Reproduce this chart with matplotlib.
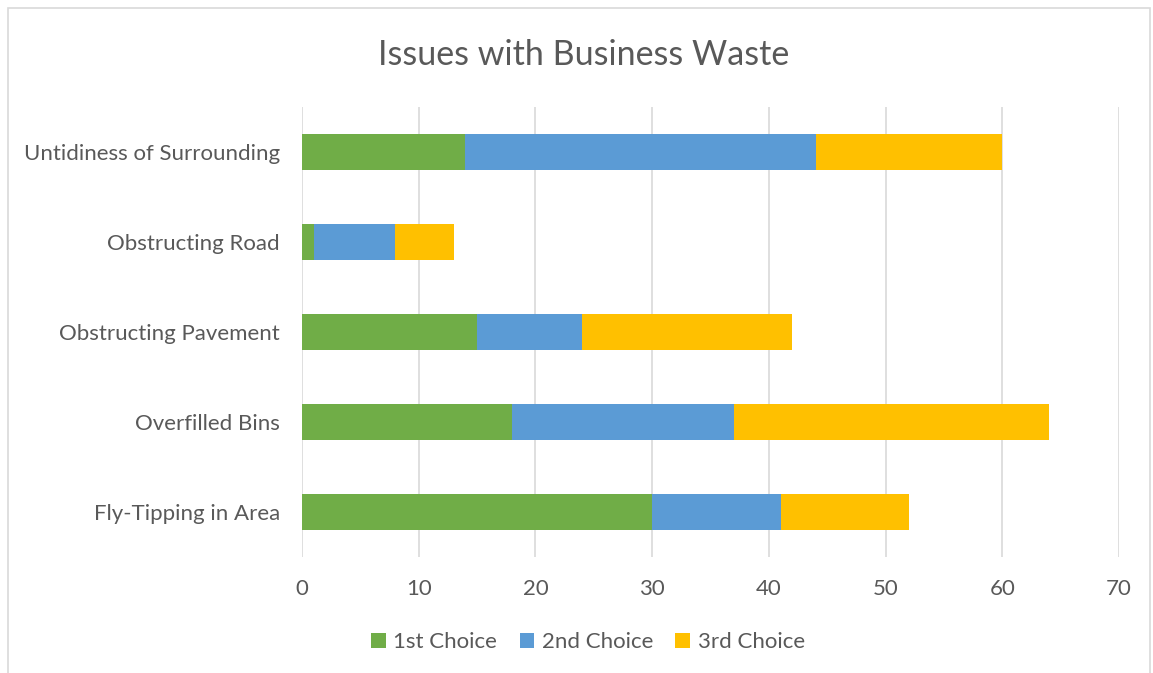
import matplotlib.pyplot as plt
from matplotlib.patches import Rectangle

categories = ['Fly-Tipping in Area', 'Overfilled Bins', 'Obstructing Pavement',
              'Obstructing Road', 'Untidiness of Surrounding']
first_choice = [30, 18, 15, 1, 14]
second_choice = [11, 19, 9, 7, 30]
third_choice = [11, 27, 18, 5, 16]
series_names = ['1st Choice', '2nd Choice', '3rd Choice']
colors = ['#70AD47', '#5B9BD5', '#FFC000']

plt.rcParams['font.family'] = ['Lato', 'DejaVu Sans']
text_color = '#595959'

fig = plt.figure(figsize=(11.53, 6.73), dpi=100)
ax = fig.add_axes([302 / 1153, 1 - 557 / 673, (1119 - 302) / 1153, (557 - 107) / 673])

# chart border
fig.patches.append(Rectangle((8 / 1153, -0.01), 1142 / 1153, 1 - 8 / 673 + 0.01,
                             transform=fig.transFigure, fill=False,
                             edgecolor='#D9D9D9', linewidth=1.2))

y = range(len(categories))
left = [0] * len(categories)
for vals, name, c in zip([first_choice, second_choice, third_choice], series_names, colors):
    ax.barh(y, vals, left=left, height=0.4, color=c, label=name, zorder=3)
    left = [a + b for a, b in zip(left, vals)]

ax.set_xlim(0, 70)
ax.set_ylim(-0.5, 4.5)
ax.set_xticks(range(0, 71, 10))
ax.set_yticks(list(y))
ax.set_yticklabels(categories)
ax.grid(axis='x', color='#D9D9D9', linewidth=1.2, zorder=0)
for s in ax.spines.values():
    s.set_visible(False)
ax.tick_params(length=0, labelsize=16, colors=text_color)
ax.tick_params(axis='x', pad=16)
ax.tick_params(axis='y', pad=16)

fig.text(584 / 1153, 1 - 55 / 673, 'Issues with Business Waste', ha='center', va='center',
         fontsize=24.5, color=text_color)

fig.legend(loc='center', bbox_to_anchor=(588 / 1153, 1 - 642 / 673), ncol=3,
           frameon=False, fontsize=16, labelcolor=text_color, handlelength=0.65,
           handleheight=0.65, handletextpad=0.35, columnspacing=1.0)

fig.savefig('out.png', dpi=100)
